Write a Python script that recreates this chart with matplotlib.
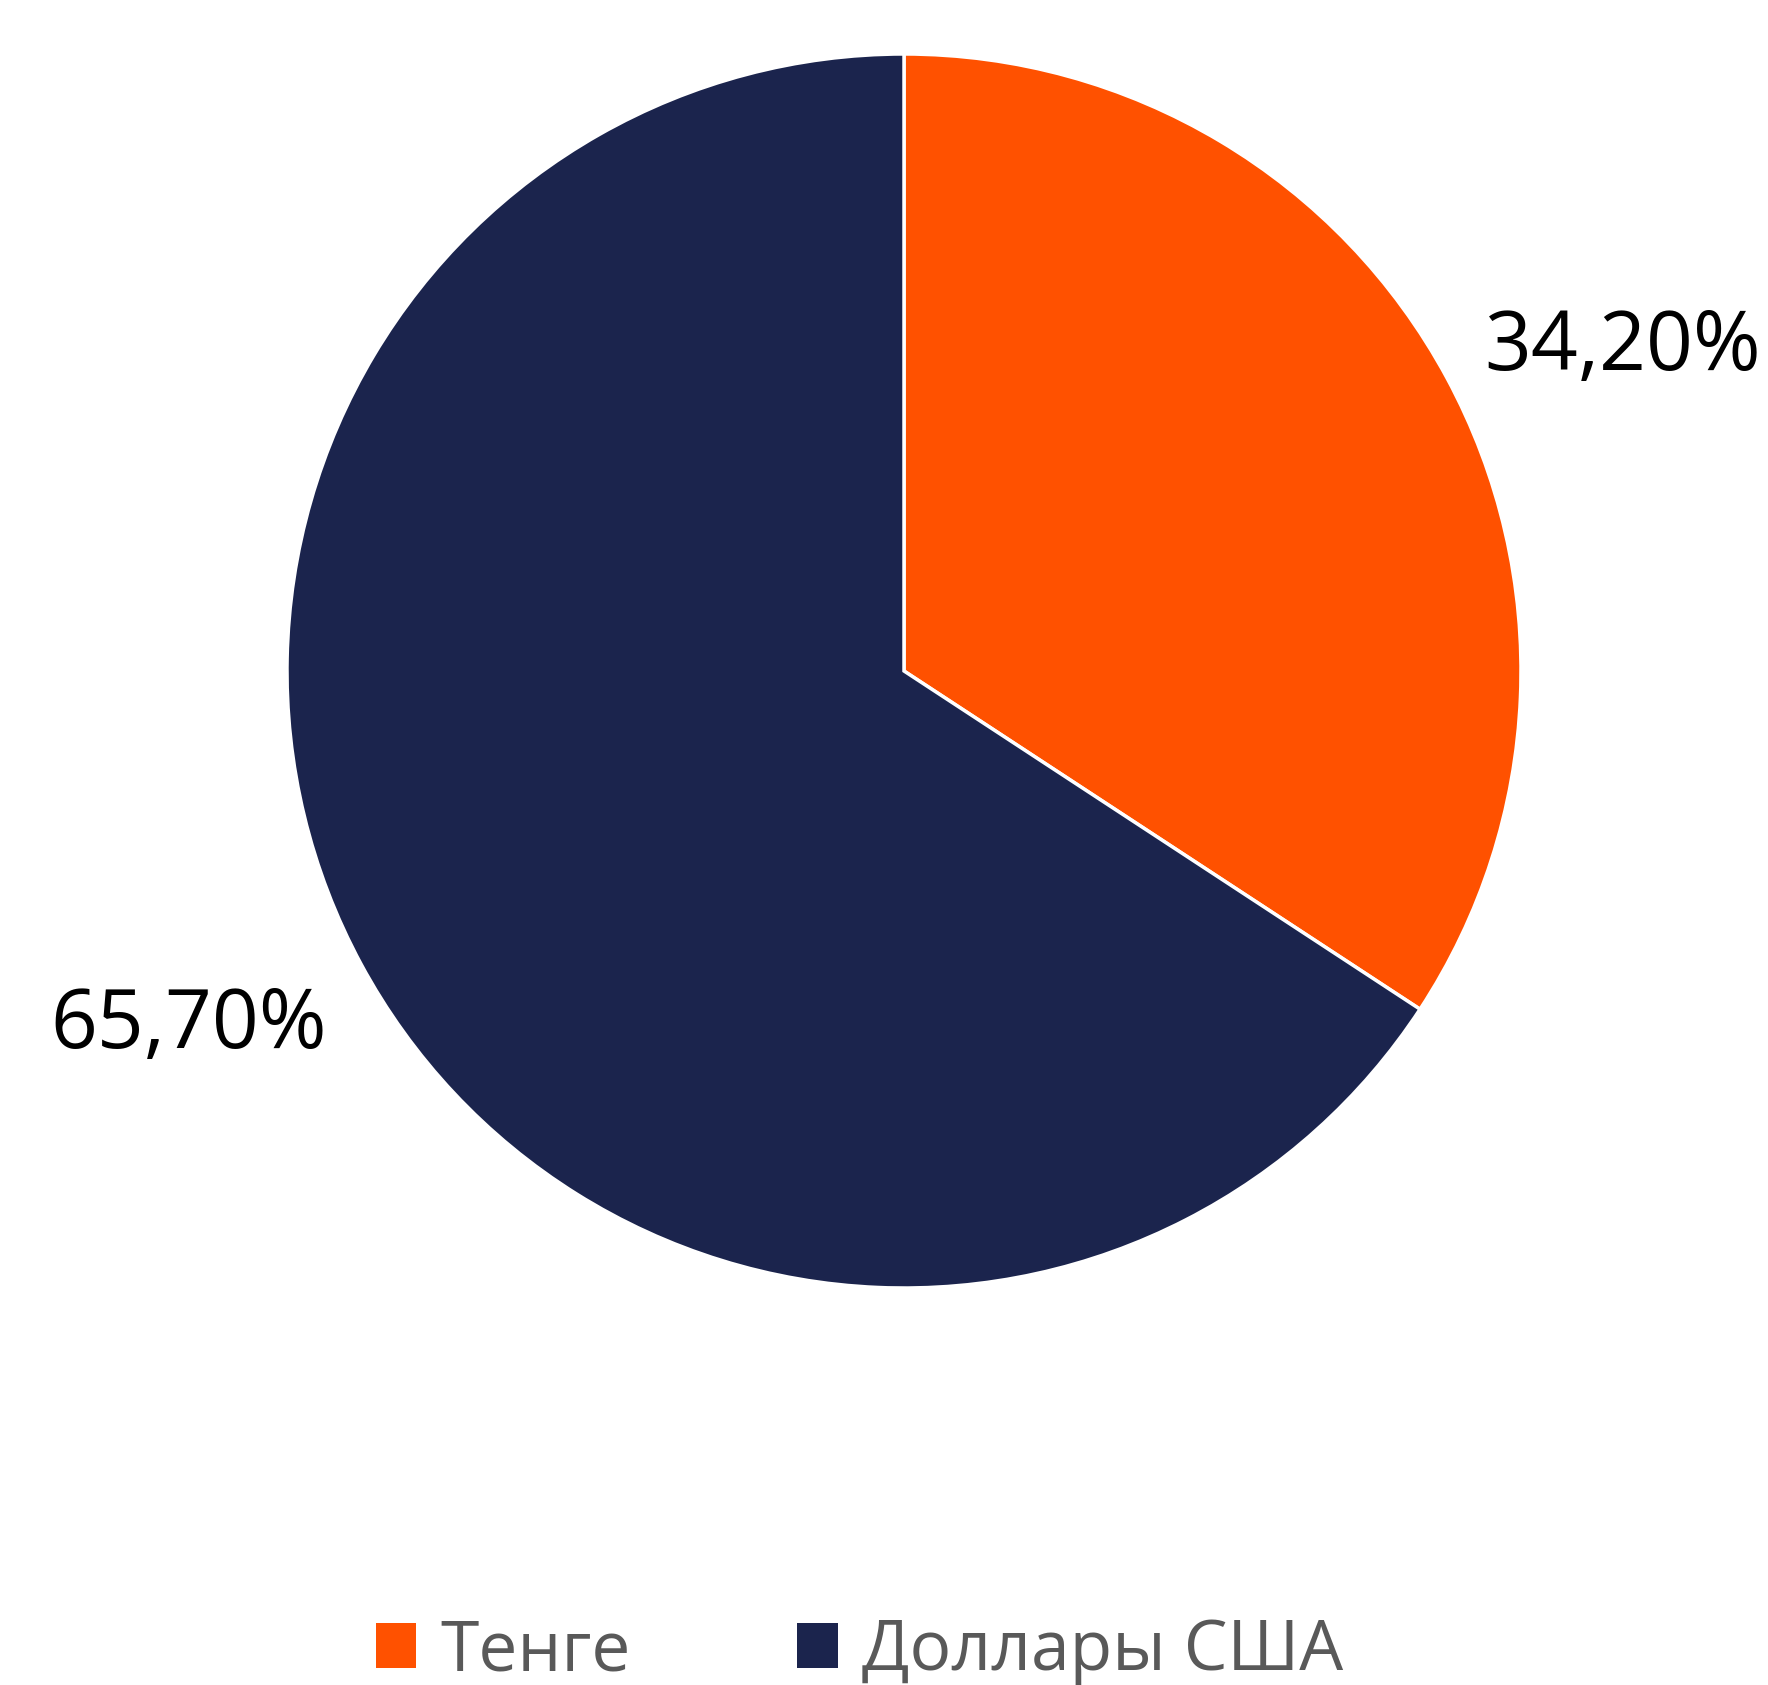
import numpy as np
import matplotlib
matplotlib.use("Agg")
import matplotlib.pyplot as plt
from matplotlib.patches import Patch

# currency split of the portfolio
categories = ["Тенге", "Доллары США"]
shares = [34.20, 65.70]
colors = ["#FF5100", "#1B244D"]

plt.rcParams['font.family'] = ['Open Sans', 'DejaVu Sans']

fig = plt.figure(figsize=(17.68, 16.85), dpi=100)
ax = fig.add_axes([287 / 1768, 397 / 1685, 1234 / 1768, 1234 / 1685])

wedges, _ = ax.pie(shares, colors=colors, startangle=90, counterclock=False,
                   wedgeprops=dict(edgecolor="white", linewidth=2.5))
ax.set_xlim(-1, 1)
ax.set_ylim(-1, 1)
ax.set_aspect("equal")
ax.axis("off")

# outside labels, placed where the reference puts them
label_pos = [(1.165, 0.522), (-1.159, -0.576)]
for v, (x, y) in zip(shares, label_pos):
    ax.text(x, y, f"{v:.2f}%".replace(".", ","), ha="center", va="center",
            fontsize=59, color="black", clip_on=False)

handles = [Patch(facecolor=c, edgecolor="none") for c in colors]
fig.legend(handles, categories, loc="center", bbox_to_anchor=(0.486, 1 - 1652 / 1685),
           ncol=2, frameon=False, fontsize=50, labelcolor="#595959",
           handlelength=0.59, handleheight=0.6, handletextpad=0.34, columnspacing=2.4)

fig.savefig("out.png", dpi=100)
